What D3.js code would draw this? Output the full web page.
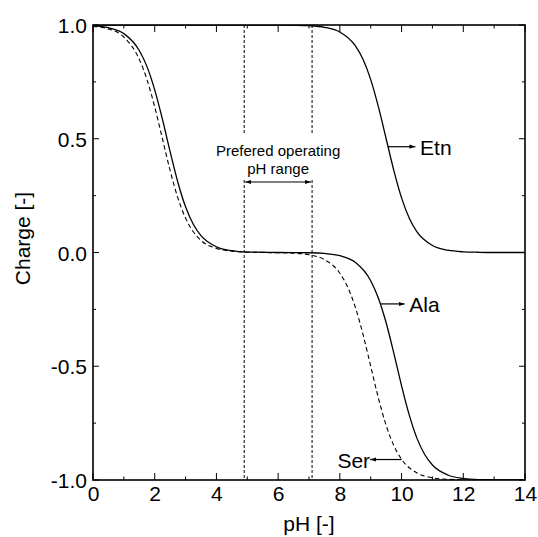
<!DOCTYPE html>
<html>
<head>
<meta charset="utf-8">
<script src="https://cdn.jsdelivr.net/npm/d3@7"></script>
<style>
  html, body { margin: 0; padding: 0; background: #fff; }
  svg { display: block; font-family: "Liberation Sans", Arial, sans-serif; }
</style>
</head>
<body>
<svg id="chart" width="538" height="537"></svg>
<script>
// Net charge of ethanolamine, alanine and serine versus pH
const phAla = [0, 0.5, 1, 1.5, 1.75, 2, 2.25, 2.5, 2.75, 3, 3.25, 3.5, 4, 4.5, 5, 5.5, 6, 6.5, 7, 7.5, 8, 8.5, 9, 9.25, 9.5, 9.75, 10, 10.25, 10.5, 10.75, 11, 11.5, 12, 12.5, 13, 13.5, 14];
const chargeAla = [0.996, 0.988, 0.962, 0.888, 0.817, 0.715, 0.586, 0.443, 0.309, 0.201, 0.124, 0.074, 0.025, 0.008, 0.002, 0.001, 0.000, -0.0005, -0.001, -0.004, -0.014, -0.043, -0.124, -0.201, -0.309, -0.443, -0.586, -0.715, -0.817, -0.888, -0.934, -0.978, -0.993, -0.998, -0.999, -1.0, -1.0];

const phSer = [0, 0.5, 1, 1.5, 1.75, 2, 2.25, 2.5, 2.75, 3, 3.25, 3.5, 4, 4.5, 5, 5.5, 6, 6.5, 7, 7.5, 8, 8.25, 8.5, 8.75, 9, 9.25, 9.5, 9.75, 10, 10.5, 11, 11.5, 12, 13, 14];
const chargeSer = [0.994, 0.983, 0.947, 0.849, 0.760, 0.640, 0.500, 0.360, 0.240, 0.151, 0.091, 0.053, 0.018, 0.006, 0.002, 0.000, -0.001, -0.003, -0.010, -0.031, -0.091, -0.151, -0.240, -0.360, -0.500, -0.640, -0.760, -0.849, -0.909, -0.969, -0.990, -0.997, -0.999, -1.0, -1.0];

const phEtn = [0, 2, 4, 6, 6.5, 7, 7.5, 8, 8.5, 8.75, 9, 9.25, 9.5, 9.75, 10, 10.25, 10.5, 11, 11.5, 12, 12.5, 13, 14];
const chargeEtn = [1.0, 1.0, 1.0, 1.0, 0.999, 0.997, 0.990, 0.969, 0.909, 0.849, 0.760, 0.640, 0.500, 0.360, 0.240, 0.151, 0.091, 0.031, 0.010, 0.003, 0.001, 0.000, 0.000];

// Preferred operating window (pH)
const operatingRange = [4.9, 7.1];

const xTicks = [0, 2, 4, 6, 8, 10, 12, 14];
const xMinorTicks = [1, 3, 5, 7, 9, 11, 13];
const yTicks = [-1.0, -0.5, 0.0, 0.5, 1.0];
const yMinorTicks = [-0.75, -0.25, 0.25, 0.75];

const svg = d3.select("#chart");
const margin = { left: 93, right: 13, top: 25, bottom: 57 };
const W = 538, H = 537;

const x = d3.scaleLinear().domain([0, 14]).range([margin.left, W - margin.right]);
const y = d3.scaleLinear().domain([-1, 1]).range([H - margin.bottom, margin.top]);

const defs = svg.append("defs");
defs.append("clipPath").attr("id", "plotClip")
  .append("rect")
  .attr("x", x(0)).attr("y", y(1))
  .attr("width", x(14) - x(0)).attr("height", y(-1) - y(1));

defs.append("marker")
  .attr("id", "head").attr("viewBox", "0 0 10 10")
  .attr("refX", 10).attr("refY", 5)
  .attr("markerWidth", 6).attr("markerHeight", 6)
  .attr("markerUnits", "userSpaceOnUse")
  .attr("orient", "auto-start-reverse")
  .append("path").attr("d", "M0,1.5 L10,5 L0,8.5 Z").attr("fill", "#000");

// Tick labels use a plain hyphen for negatives
const fmtY = v => d3.format(".1f")(v).replace("\u2212", "-");

// Axes: inward ticks on all four sides
const fontSize = 21;
const axisBottom = d3.axisBottom(x).tickValues(xTicks).tickFormat(d3.format("d")).tickSize(0).tickPadding(0);
const gx = svg.append("g").attr("transform", `translate(0,${y(-1)})`).call(axisBottom);
gx.select(".domain").remove();
gx.selectAll("text").attr("font-size", fontSize).attr("font-family", "Liberation Sans, Arial, sans-serif")
  .attr("fill", "#000").attr("dy", null).attr("y", 21);

const axisLeft = d3.axisLeft(y).tickValues(yTicks).tickFormat(fmtY).tickSize(0).tickPadding(0);
const gy = svg.append("g").attr("transform", `translate(${x(0)},0)`).call(axisLeft);
gy.select(".domain").remove();
gy.selectAll("text").attr("font-size", fontSize).attr("font-family", "Liberation Sans, Arial, sans-serif")
  .attr("fill", "#000").attr("x", -6).attr("dy", "0.36em");

const tickG = svg.append("g").attr("stroke", "#000").attr("stroke-width", 1);
// bottom / top
xTicks.forEach(v => {
  tickG.append("line").attr("x1", x(v)).attr("x2", x(v)).attr("y1", y(-1)).attr("y2", y(-1) - 7);
  tickG.append("line").attr("x1", x(v)).attr("x2", x(v)).attr("y1", y(1)).attr("y2", y(1) + 7);
});
xMinorTicks.forEach(v => {
  tickG.append("line").attr("x1", x(v)).attr("x2", x(v)).attr("y1", y(-1)).attr("y2", y(-1) - 3.5);
  tickG.append("line").attr("x1", x(v)).attr("x2", x(v)).attr("y1", y(1)).attr("y2", y(1) + 3.5);
});
// left / right
yTicks.forEach(v => {
  tickG.append("line").attr("x1", x(0)).attr("x2", x(0) + 6).attr("y1", y(v)).attr("y2", y(v));
  tickG.append("line").attr("x1", x(14)).attr("x2", x(14) - 6).attr("y1", y(v)).attr("y2", y(v));
});
yMinorTicks.forEach(v => {
  tickG.append("line").attr("x1", x(0)).attr("x2", x(0) + 3).attr("y1", y(v)).attr("y2", y(v));
  tickG.append("line").attr("x1", x(14)).attr("x2", x(14) - 3).attr("y1", y(v)).attr("y2", y(v));
});

// Operating-range markers: dashed verticals broken around the annotation
const labelTop = 135, labelBottom = 180;
operatingRange.forEach(v => {
  svg.append("line").attr("x1", x(v)).attr("x2", x(v)).attr("y1", y(1)).attr("y2", labelTop)
    .attr("stroke", "#000").attr("stroke-width", 1).attr("stroke-dasharray", "3,2");
  svg.append("line").attr("x1", x(v)).attr("x2", x(v)).attr("y1", labelBottom).attr("y2", y(-1))
    .attr("stroke", "#000").attr("stroke-width", 1).attr("stroke-dasharray", "3,2");
});
svg.append("line")
  .attr("x1", x(operatingRange[0]) + 1).attr("x2", x(operatingRange[1]) - 1)
  .attr("y1", 182).attr("y2", 182)
  .attr("stroke", "#000").attr("stroke-width", 1.2)
  .attr("marker-start", "url(#head)").attr("marker-end", "url(#head)");
const midX = (x(operatingRange[0]) + x(operatingRange[1])) / 2;
svg.append("text").attr("x", midX).attr("y", 156).attr("text-anchor", "middle")
  .attr("font-size", 15).text("Prefered operating");
svg.append("text").attr("x", midX).attr("y", 174).attr("text-anchor", "middle")
  .attr("font-size", 15).text("pH range");

// Charge curves
const line = d3.line().x(d => x(d[0])).y(d => y(d[1])).curve(d3.curveMonotoneX);
const plot = svg.append("g").attr("clip-path", "url(#plotClip)");
const zipped = (a, b) => a.map((v, i) => [v, b[i]]);

plot.append("path").datum(zipped(phSer, chargeSer)).attr("d", line)
  .attr("fill", "none").attr("stroke", "#000").attr("stroke-width", 1.1).attr("stroke-dasharray", "4.5,3");
plot.append("path").datum(zipped(phAla, chargeAla)).attr("d", line)
  .attr("fill", "none").attr("stroke", "#000").attr("stroke-width", 1.3);
plot.append("path").datum(zipped(phEtn, chargeEtn)).attr("d", line)
  .attr("fill", "none").attr("stroke", "#000").attr("stroke-width", 1.3);

// Frame
svg.append("rect").attr("x", x(0)).attr("y", y(1))
  .attr("width", x(14) - x(0)).attr("height", y(-1) - y(1))
  .attr("fill", "none").attr("stroke", "#000").attr("stroke-width", 1.6);

// Curve labels with pointer arrows
function pointer(x1, y1, x2, y2) {
  svg.append("line").attr("x1", x1).attr("y1", y1).attr("x2", x2).attr("y2", y2)
    .attr("stroke", "#000").attr("stroke-width", 1.2).attr("marker-end", "url(#head)");
}
// Etn: from curve at pH 9.56, charge ~0.465
pointer(x(9.56), y(0.465), x(10.45), y(0.465));
svg.append("text").attr("x", x(10.6)).attr("y", y(0.465) + 8).attr("font-size", fontSize).text("Etn");
// Ala: from curve at pH 9.33, charge ~ -0.226
pointer(x(9.33), y(-0.226), x(10.1), y(-0.226));
svg.append("text").attr("x", x(10.25)).attr("y", y(-0.226) + 8).attr("font-size", fontSize).text("Ala");
// Ser: from curve at pH 10.0, charge ~ -0.91 towards the label
pointer(x(10.0), y(-0.91), x(8.98), y(-0.91));
svg.append("text").attr("x", x(8.98)).attr("y", y(-0.91) + 8).attr("text-anchor", "end")
  .attr("font-size", fontSize).text("Ser");

// Axis titles
svg.append("text").attr("x", (x(0) + x(14)) / 2).attr("y", 531).attr("text-anchor", "middle")
  .attr("font-size", fontSize).text("pH [-]");
svg.append("text").attr("transform", `translate(30,${(y(1) + y(-1)) / 2 - 14}) rotate(-90)`)
  .attr("text-anchor", "middle").attr("font-size", fontSize).text("Charge [-]");
</script>
</body>
</html>
